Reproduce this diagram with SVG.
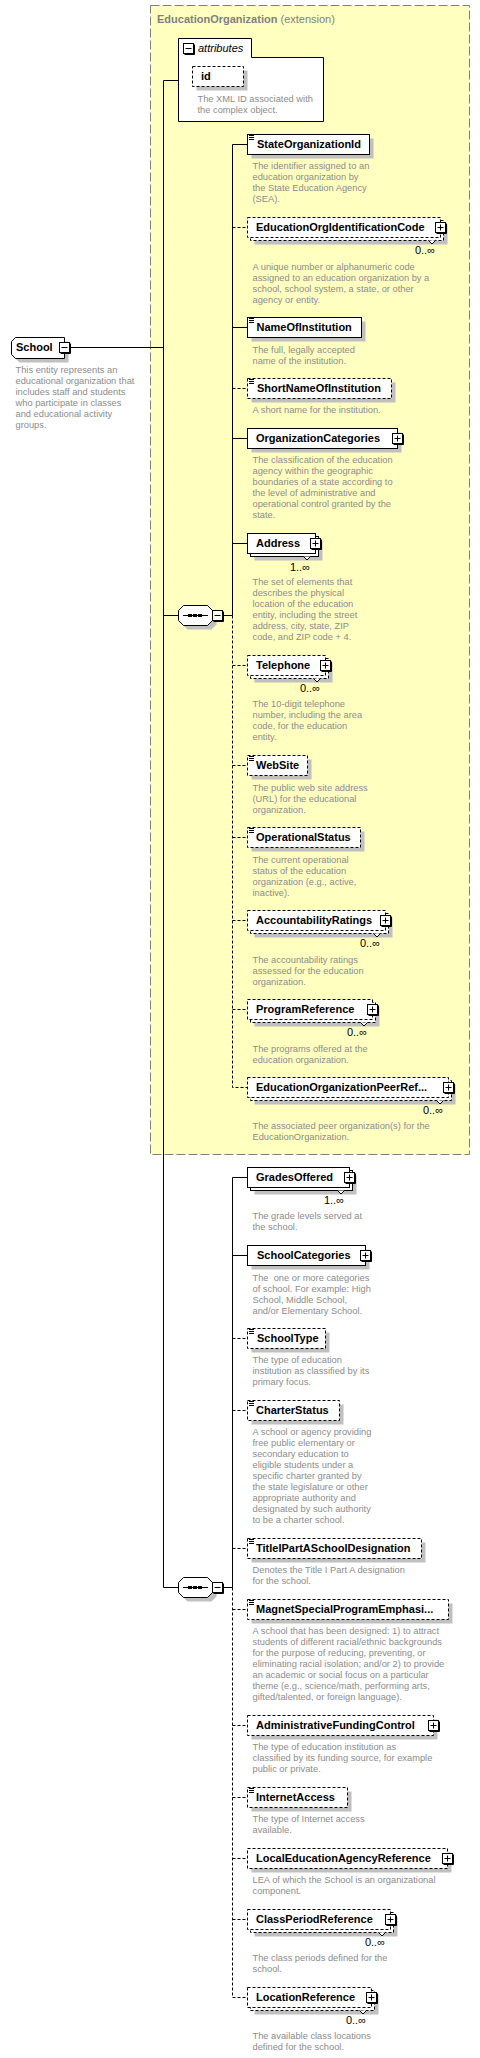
<svg xmlns="http://www.w3.org/2000/svg" xmlns:xlink="http://www.w3.org/1999/xlink" width="480" height="2058" viewBox="0 0 480 2058">
<style>
.box{fill:#fff;stroke:#000;stroke-width:1}
.opt{stroke-dasharray:3 2}
.sh{fill:#c0c0c0;stroke:none}
.lbl{font-family:'Liberation Sans',Arial,sans-serif;font-size:11px;font-weight:bold;fill:#000}
.desc{font-family:'Liberation Sans',Arial,sans-serif;font-size:9.3px;fill:#8c8c8c}
.card{font-family:'Liberation Sans',Arial,sans-serif;font-size:11px;fill:#000;text-anchor:end}
.ln{stroke:#000;stroke-width:1;fill:none}
.dl{stroke:#000;stroke-width:1;fill:none;stroke-dasharray:3 2}
.ic{stroke:#000;stroke-width:1;fill:none}
.chev{fill:#fff;stroke:#000;stroke-width:1}
</style>
<defs>
<g id="plus"><path d="M11 1V11H1" class="ic"/><rect x="0" y="0" width="10" height="10" class="box"/><path d="M2 5H8M5 2V8" class="ic"/></g>
<g id="minus"><path d="M11 1V11H1" class="ic"/><rect x="0" y="0" width="10" height="10" class="box"/><path d="M2 5H8" class="ic"/></g>
<g id="stype"><path d="M0 0H5M0 2H5M0 4H5" class="ic"/></g>
<g id="seqsym">
<polygon class="sh" points="9,4 33,4 38,9 38,19 33,24 9,24 4,19 4,9"/>
<polygon class="box" points="5,0 29,0 34,5 34,15 29,20 5,20 0,15 0,5"/>
<path d="M4.5 10H29.5" class="ic"/>
<rect x="9.5" y="8.5" width="4" height="3" fill="#000"/>
<rect x="14.5" y="8.5" width="4" height="3" fill="#000"/>
<rect x="19.5" y="8.5" width="4" height="3" fill="#000"/>
<use xlink:href="#minus" x="34" y="5"/>
</g>
</defs>

<g id="extension">
<rect x="150.5" y="5.5" width="319" height="1149" fill="#ffffc0" stroke="#808080" stroke-dasharray="9 3"/>
<text x="157" y="23" font-family="'Liberation Sans',Arial,sans-serif" font-size="11" fill="#808080"><tspan font-weight="bold">EducationOrganization</tspan> (extension)</text>
</g>

<g id="connectors">
<path class="ln" d="M70 347.5H163.5M163.5 80.5V1587.5M163.5 80.5H178.5M163.5 615.5H178.5M163.5 1587.5H178.5M222.5 615.5H232.5M222.5 1587.5H232.5"/>
<path class="ln" d="M232.5 144.5V615.5M232.5 144.5H247.5M232.5 327.5H247.5M232.5 438.5H247.5M232.5 543.5H247.5"/>
<path class="dl" d="M232.5 615.5V1087.5H247.5M232.5 227.5H247.5M232.5 388.5H247.5M232.5 665.5H247.5M232.5 765.5H247.5M232.5 837.5H247.5M232.5 920.5H247.5M232.5 1009.5H247.5"/>
<path class="ln" d="M232.5 1177.5V1587.5M232.5 1177.5H247.5M232.5 1255.5H247.5"/>
<path class="dl" d="M232.5 1587.5V1997.5H247.5M232.5 1338.5H247.5M232.5 1410.5H247.5M232.5 1548.5H247.5M232.5 1609.5H247.5M232.5 1725.5H247.5M232.5 1797.5H247.5M232.5 1858.5H247.5M232.5 1919.5H247.5"/>
</g>

<g id="School">
<path class="sh" d="M19.5 341.5H68.5V362.5H19.5L15.5 358.5V345.5Z"/>
<path class="box" d="M15.5 337.5H64.5V358.5H15.5L11.5 354.5V341.5Z"/>
<text class="lbl" x="16" y="351">School</text>
<use xlink:href="#minus" x="59.5" y="342.5"/>
<text class="desc" x="15.5" y="373"><tspan x="15.5">This entity represents an</tspan><tspan x="15.5" dy="11">educational organization that</tspan><tspan x="15.5" dy="11">includes staff and students</tspan><tspan x="15.5" dy="11">who participate in classes</tspan><tspan x="15.5" dy="11">and educational activity</tspan><tspan x="15.5" dy="11">groups.</tspan></text>
</g>

<g id="attributes">
<polygon class="box" points="178.5,121.5 178.5,38.5 251.5,38.5 251.5,57.5 323.5,57.5 323.5,121.5"/>
<use xlink:href="#minus" x="183.5" y="43.5"/>
<text x="198" y="52" font-family="'Liberation Sans',Arial,sans-serif" font-size="11" font-style="italic" fill="#000">attributes</text>
</g>

<g id="id">
<rect class="sh" x="196.5" y="70.5" width="51" height="20"/>
<rect class="box opt" x="192.5" y="66.5" width="51" height="20"/>
<text class="lbl" x="201" y="80">id</text>
<text class="desc" x="197.5" y="102"><tspan x="197.5">The XML ID associated with</tspan><tspan x="197.5" dy="11">the complex object.</tspan></text>
</g>

<g id="sequence1"><use xlink:href="#seqsym" x="178.5" y="605.5"/></g>
<g id="sequence2"><use xlink:href="#seqsym" x="178.5" y="1577.5"/></g>

<g id="StateOrganizationId">
<rect class="sh" x="251.5" y="138.5" width="122" height="20"/>
<rect class="box" x="247.5" y="134.5" width="122" height="20"/>
<use xlink:href="#stype" x="249" y="135.5"/>
<text class="lbl" x="257" y="148">StateOrganizationId</text>
<text class="desc" x="252.5" y="169"><tspan x="252.5">The identifier assigned to an</tspan><tspan x="252.5" dy="11">education organization by</tspan><tspan x="252.5" dy="11">the State Education Agency</tspan><tspan x="252.5" dy="11">(SEA).</tspan></text>
</g>

<g id="EducationOrgIdentificationCode">
<rect class="sh" x="254.5" y="224.5" width="193" height="20"/>
<rect class="box opt" x="250.5" y="220.5" width="193" height="20"/>
<rect class="box opt" x="247.5" y="217.5" width="193" height="20"/>
<path class="chev" d="M428.5 240.5L432 244L435.5 240.5"/>
<text class="lbl" x="256" y="231">EducationOrgIdentificationCode</text>
<use xlink:href="#plus" x="435.5" y="222.5"/>
<text class="card" x="435" y="254">0..∞</text>
<text class="desc" x="252.5" y="270"><tspan x="252.5">A unique number or alphanumeric code</tspan><tspan x="252.5" dy="11">assigned to an education organization by a</tspan><tspan x="252.5" dy="11">school, school system, a state, or other</tspan><tspan x="252.5" dy="11">agency or entity.</tspan></text>
</g>

<g id="NameOfInstitution">
<rect class="sh" x="251.5" y="321.5" width="114" height="20"/>
<rect class="box" x="247.5" y="317.5" width="114" height="20"/>
<use xlink:href="#stype" x="249" y="318.5"/>
<text class="lbl" x="256.5" y="331">NameOfInstitution</text>
<text class="desc" x="252.5" y="353"><tspan x="252.5">The full, legally accepted</tspan><tspan x="252.5" dy="11">name of the institution.</tspan></text>
</g>

<g id="ShortNameOfInstitution">
<rect class="sh" x="251.5" y="382.5" width="144" height="20"/>
<rect class="box opt" x="247.5" y="378.5" width="144" height="20"/>
<use xlink:href="#stype" x="249" y="379.5"/>
<text class="lbl" x="257" y="392">ShortNameOfInstitution</text>
<text class="desc" x="252.5" y="413">A short name for the institution.</text>
</g>

<g id="OrganizationCategories">
<rect class="sh" x="251.5" y="432.5" width="150" height="20"/>
<rect class="box" x="247.5" y="428.5" width="150" height="20"/>
<text class="lbl" x="256" y="442">OrganizationCategories</text>
<use xlink:href="#plus" x="392.5" y="433.5"/>
<text class="desc" x="252.5" y="463"><tspan x="252.5">The classification of the education</tspan><tspan x="252.5" dy="11">agency within the geographic</tspan><tspan x="252.5" dy="11">boundaries of a state according to</tspan><tspan x="252.5" dy="11">the level of administrative and</tspan><tspan x="252.5" dy="11">operational control granted by the</tspan><tspan x="252.5" dy="11">state.</tspan></text>
</g>

<g id="Address">
<rect class="sh" x="254.5" y="540.5" width="68" height="20"/>
<rect class="box" x="250.5" y="536.5" width="68" height="20"/>
<rect class="box" x="247.5" y="533.5" width="68" height="20"/>
<path class="chev" d="M303.5 556.5L307 560L310.5 556.5"/>
<text class="lbl" x="256" y="547">Address</text>
<use xlink:href="#plus" x="310.5" y="538.5"/>
<text class="card" x="310" y="571">1..∞</text>
<text class="desc" x="252.5" y="585"><tspan x="252.5">The set of elements that</tspan><tspan x="252.5" dy="11">describes the physical</tspan><tspan x="252.5" dy="11">location of the education</tspan><tspan x="252.5" dy="11">entity, including the street</tspan><tspan x="252.5" dy="11">address, city, state, ZIP</tspan><tspan x="252.5" dy="11">code, and ZIP code + 4.</tspan></text>
</g>

<g id="Telephone">
<rect class="sh" x="254.5" y="662.5" width="78" height="20"/>
<rect class="box opt" x="250.5" y="658.5" width="78" height="20"/>
<rect class="box opt" x="247.5" y="655.5" width="78" height="20"/>
<path class="chev" d="M313.5 678.5L317 682L320.5 678.5"/>
<text class="lbl" x="256" y="669">Telephone</text>
<use xlink:href="#plus" x="320.5" y="660.5"/>
<text class="card" x="320" y="692">0..∞</text>
<text class="desc" x="252.5" y="707"><tspan x="252.5">The 10-digit telephone</tspan><tspan x="252.5" dy="11">number, including the area</tspan><tspan x="252.5" dy="11">code, for the education</tspan><tspan x="252.5" dy="11">entity.</tspan></text>
</g>

<g id="WebSite">
<rect class="sh" x="251.5" y="759.5" width="60" height="20"/>
<rect class="box opt" x="247.5" y="755.5" width="60" height="20"/>
<use xlink:href="#stype" x="249" y="756.5"/>
<text class="lbl" x="256" y="769">WebSite</text>
<text class="desc" x="252.5" y="791"><tspan x="252.5">The public web site address</tspan><tspan x="252.5" dy="11">(URL) for the educational</tspan><tspan x="252.5" dy="11">organization.</tspan></text>
</g>

<g id="OperationalStatus">
<rect class="sh" x="251.5" y="831.5" width="113" height="20"/>
<rect class="box opt" x="247.5" y="827.5" width="113" height="20"/>
<use xlink:href="#stype" x="249" y="828.5"/>
<text class="lbl" x="256" y="841">OperationalStatus</text>
<text class="desc" x="252.5" y="863"><tspan x="252.5">The current operational</tspan><tspan x="252.5" dy="11">status of the education</tspan><tspan x="252.5" dy="11">organization (e.g., active,</tspan><tspan x="252.5" dy="11">inactive).</tspan></text>
</g>

<g id="AccountabilityRatings">
<rect class="sh" x="254.5" y="917.5" width="138" height="20"/>
<rect class="box opt" x="250.5" y="913.5" width="138" height="20"/>
<rect class="box opt" x="247.5" y="910.5" width="138" height="20"/>
<path class="chev" d="M373.5 933.5L377 937L380.5 933.5"/>
<text class="lbl" x="256" y="924">AccountabilityRatings</text>
<use xlink:href="#plus" x="380.5" y="915.5"/>
<text class="card" x="380" y="947">0..∞</text>
<text class="desc" x="252.5" y="963"><tspan x="252.5">The accountability ratings</tspan><tspan x="252.5" dy="11">assessed for the education</tspan><tspan x="252.5" dy="11">organization.</tspan></text>
</g>

<g id="ProgramReference">
<rect class="sh" x="254.5" y="1006.5" width="125" height="20"/>
<rect class="box opt" x="250.5" y="1002.5" width="125" height="20"/>
<rect class="box opt" x="247.5" y="999.5" width="125" height="20"/>
<path class="chev" d="M360.5 1022.5L364 1026L367.5 1022.5"/>
<text class="lbl" x="256" y="1013">ProgramReference</text>
<use xlink:href="#plus" x="367.5" y="1004.5"/>
<text class="card" x="367" y="1036">0..∞</text>
<text class="desc" x="252.5" y="1052"><tspan x="252.5">The programs offered at the</tspan><tspan x="252.5" dy="11">education organization.</tspan></text>
</g>

<g id="EducationOrganizationPeerReference">
<rect class="sh" x="254.5" y="1084.5" width="201" height="20"/>
<rect class="box opt" x="250.5" y="1080.5" width="201" height="20"/>
<rect class="box opt" x="247.5" y="1077.5" width="201" height="20"/>
<path class="chev" d="M436.5 1100.5L440 1104L443.5 1100.5"/>
<text class="lbl" x="256" y="1091">EducationOrganizationPeerRef...</text>
<use xlink:href="#plus" x="443.5" y="1082.5"/>
<text class="card" x="443" y="1114">0..∞</text>
<text class="desc" x="252.5" y="1129"><tspan x="252.5">The associated peer organization(s) for the</tspan><tspan x="252.5" dy="11">EducationOrganization.</tspan></text>
</g>

<g id="GradesOffered">
<rect class="sh" x="254.5" y="1174.5" width="102" height="20"/>
<rect class="box" x="250.5" y="1170.5" width="102" height="20"/>
<rect class="box" x="247.5" y="1167.5" width="102" height="20"/>
<path class="chev" d="M337.5 1190.5L341 1194L344.5 1190.5"/>
<text class="lbl" x="256" y="1181">GradesOffered</text>
<use xlink:href="#plus" x="344.5" y="1172.5"/>
<text class="card" x="344" y="1204">1..∞</text>
<text class="desc" x="252.5" y="1219"><tspan x="252.5">The grade levels served at</tspan><tspan x="252.5" dy="11">the school.</tspan></text>
</g>

<g id="SchoolCategories">
<rect class="sh" x="251.5" y="1249.5" width="118" height="20"/>
<rect class="box" x="247.5" y="1245.5" width="118" height="20"/>
<text class="lbl" x="257" y="1259">SchoolCategories</text>
<use xlink:href="#plus" x="360.5" y="1250.5"/>
<text class="desc" x="252.5" y="1281" xml:space="preserve"><tspan x="252.5">The  one or more categories</tspan><tspan x="252.5" dy="11">of school. For example: High</tspan><tspan x="252.5" dy="11">School, Middle School,</tspan><tspan x="252.5" dy="11">and/or Elementary School.</tspan></text>
</g>

<g id="SchoolType">
<rect class="sh" x="251.5" y="1332.5" width="78" height="20"/>
<rect class="box opt" x="247.5" y="1328.5" width="78" height="20"/>
<use xlink:href="#stype" x="249" y="1329.5"/>
<text class="lbl" x="257" y="1342">SchoolType</text>
<text class="desc" x="252.5" y="1363"><tspan x="252.5">The type of education</tspan><tspan x="252.5" dy="11">institution as classified by its</tspan><tspan x="252.5" dy="11">primary focus.</tspan></text>
</g>

<g id="CharterStatus">
<rect class="sh" x="251.5" y="1404.5" width="92" height="20"/>
<rect class="box opt" x="247.5" y="1400.5" width="92" height="20"/>
<use xlink:href="#stype" x="249" y="1401.5"/>
<text class="lbl" x="256" y="1414">CharterStatus</text>
<text class="desc" x="252.5" y="1435"><tspan x="252.5">A school or agency providing</tspan><tspan x="252.5" dy="11">free public elementary or</tspan><tspan x="252.5" dy="11">secondary education to</tspan><tspan x="252.5" dy="11">eligible students under a</tspan><tspan x="252.5" dy="11">specific charter granted by</tspan><tspan x="252.5" dy="11">the state legislature or other</tspan><tspan x="252.5" dy="11">appropriate authority and</tspan><tspan x="252.5" dy="11">designated by such authority</tspan><tspan x="252.5" dy="11">to be a charter school.</tspan></text>
</g>

<g id="TitleIPartASchoolDesignation">
<rect class="sh" x="251.5" y="1542.5" width="174" height="20"/>
<rect class="box opt" x="247.5" y="1538.5" width="174" height="20"/>
<use xlink:href="#stype" x="249" y="1539.5"/>
<text class="lbl" x="256" y="1552">TitleIPartASchoolDesignation</text>
<text class="desc" x="252.5" y="1573"><tspan x="252.5">Denotes the Title I Part A designation</tspan><tspan x="252.5" dy="11">for the school.</tspan></text>
</g>

<g id="MagnetSpecialProgramEmphasis">
<rect class="sh" x="251.5" y="1603.5" width="201" height="20"/>
<rect class="box opt" x="247.5" y="1599.5" width="201" height="20"/>
<use xlink:href="#stype" x="249" y="1600.5"/>
<text class="lbl" x="256" y="1613">MagnetSpecialProgramEmphasi...</text>
<text class="desc" x="252.5" y="1634"><tspan x="252.5">A school that has been designed: 1) to attract</tspan><tspan x="252.5" dy="11">students of different racial/ethnic backgrounds</tspan><tspan x="252.5" dy="11">for the purpose of reducing, preventing, or</tspan><tspan x="252.5" dy="11">eliminating racial isolation; and/or 2) to provide</tspan><tspan x="252.5" dy="11">an academic or social focus on a particular</tspan><tspan x="252.5" dy="11">theme (e.g., science/math, performing arts,</tspan><tspan x="252.5" dy="11">gifted/talented, or foreign language).</tspan></text>
</g>

<g id="AdministrativeFundingControl">
<rect class="sh" x="251.5" y="1719.5" width="186" height="20"/>
<rect class="box opt" x="247.5" y="1715.5" width="186" height="20"/>
<text class="lbl" x="256" y="1729">AdministrativeFundingControl</text>
<use xlink:href="#plus" x="428.5" y="1720.5"/>
<text class="desc" x="252.5" y="1750"><tspan x="252.5">The type of education institution as</tspan><tspan x="252.5" dy="11">classified by its funding source, for example</tspan><tspan x="252.5" dy="11">public or private.</tspan></text>
</g>

<g id="InternetAccess">
<rect class="sh" x="251.5" y="1791.5" width="100" height="20"/>
<rect class="box opt" x="247.5" y="1787.5" width="100" height="20"/>
<use xlink:href="#stype" x="249" y="1788.5"/>
<text class="lbl" x="256" y="1801">InternetAccess</text>
<text class="desc" x="252.5" y="1822"><tspan x="252.5">The type of Internet access</tspan><tspan x="252.5" dy="11">available.</tspan></text>
</g>

<g id="LocalEducationAgencyReference">
<rect class="sh" x="251.5" y="1852.5" width="200" height="20"/>
<rect class="box opt" x="247.5" y="1848.5" width="200" height="20"/>
<text class="lbl" x="256" y="1862">LocalEducationAgencyReference</text>
<use xlink:href="#plus" x="442.5" y="1853.5"/>
<text class="desc" x="252.5" y="1883"><tspan x="252.5">LEA of which the School is an organizational</tspan><tspan x="252.5" dy="11">component.</tspan></text>
</g>

<g id="ClassPeriodReference">
<rect class="sh" x="254.5" y="1916.5" width="143" height="20"/>
<rect class="box opt" x="250.5" y="1912.5" width="143" height="20"/>
<rect class="box opt" x="247.5" y="1909.5" width="143" height="20"/>
<path class="chev" d="M378.5 1932.5L382 1936L385.5 1932.5"/>
<text class="lbl" x="256" y="1923">ClassPeriodReference</text>
<use xlink:href="#plus" x="385.5" y="1914.5"/>
<text class="card" x="385" y="1946">0..∞</text>
<text class="desc" x="252.5" y="1961"><tspan x="252.5">The class periods defined for the</tspan><tspan x="252.5" dy="11">school.</tspan></text>
</g>

<g id="LocationReference">
<rect class="sh" x="254.5" y="1994.5" width="124" height="20"/>
<rect class="box opt" x="250.5" y="1990.5" width="124" height="20"/>
<rect class="box opt" x="247.5" y="1987.5" width="124" height="20"/>
<path class="chev" d="M359.5 2010.5L363 2014L366.5 2010.5"/>
<text class="lbl" x="256" y="2001">LocationReference</text>
<use xlink:href="#plus" x="366.5" y="1992.5"/>
<text class="card" x="366" y="2024">0..∞</text>
<text class="desc" x="252.5" y="2039"><tspan x="252.5">The available class locations</tspan><tspan x="252.5" dy="11">defined for the school.</tspan></text>
</g>
</svg>
